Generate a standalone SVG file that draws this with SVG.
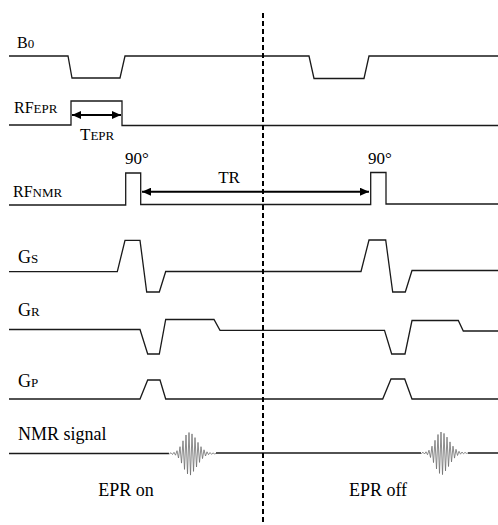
<svg xmlns="http://www.w3.org/2000/svg" width="498" height="525" viewBox="0 0 498 525">
<style>
.sig{fill:none;stroke:#1a1a1a;stroke-width:1.3;stroke-linejoin:miter}
text{font-family:"Liberation Serif","DejaVu Serif",serif;fill:#000}
.arr{stroke:#000;stroke-width:2;fill:none}
.wave{fill:none;stroke:#6e6e6e;stroke-width:0.8}
</style>
<defs>
<marker id="ah" markerUnits="userSpaceOnUse" markerWidth="9" markerHeight="8" refX="9" refY="4" orient="auto-start-reverse">
<path d="M0,0 L9,4 L0,8 z" fill="#000"/>
</marker>
<path id="wavelet" class="wave" d="M-20,0 L-19.5,0.5 L-18,-0.8 L-16.5,1 L-15,-1.2 L-13.5,1.7 L-12,-2.8 L-10.5,4.5 L-9,-6.8 L-7.5,9.6 L-6,-12.7 L-4.5,15.9 L-3,-18.5 L-1.5,20.4 L0,-21 L1.5,21.6 L3,-19.6 L4.5,17.9 L6,-15.9 L7.5,13.5 L9,-11.1 L10.5,8.9 L12,-6.8 L13.5,5.1 L15,-3.7 L16.5,2.5 L18,-1.7 L19.5,1.2 L21,-1 L22.5,0.8 L24,-0.6 L25.5,0.4 L27,0"/>
</defs>
<rect width="498" height="525" fill="#fff"/>

<g id="B0">
<path class="sig" d="M9,56 H68 L72,78 H120 L125,56 H309 L314,78.5 H364 L369,56 H498"/>
<text font-family="Liberation Serif, serif" x="17" y="48" font-size="16">B<tspan font-size="13">0</tspan></text>
</g>

<g id="RF_EPR">
<path class="sig" d="M9,125 H71 V101 H122 V125.5 H498"/>
<text font-family="Liberation Serif, serif" x="14" y="113" font-size="16">RF<tspan font-size="13">EPR</tspan></text>
<text font-family="Liberation Serif, serif" x="80" y="140" font-size="17">T<tspan font-size="13">EPR</tspan></text>
</g>

<g id="RF_NMR">
<path class="sig" d="M9,205 H125.7 V173 H140.7 V204.5 H370.7 V172.5 H386 V204 H498"/>
<text font-family="Liberation Serif, serif" x="13" y="197" font-size="16">RF<tspan font-size="13">NMR</tspan></text>
<text font-family="Liberation Serif, serif" x="137" y="164" font-size="17" text-anchor="middle">90°</text>
<text font-family="Liberation Serif, serif" x="380" y="164" font-size="17" text-anchor="middle">90°</text>
<text font-family="Liberation Serif, serif" x="229" y="183" font-size="17" text-anchor="middle">TR</text>
</g>

<g id="G_S">
<path class="sig" d="M9,271.7 H117.3 L125,240.3 H140 L146.7,292 H159.3 L165.7,271.5 H361 L369,240 H385.7 L392.7,292 H405.3 L412,270.5 H498"/>
<text font-family="Liberation Serif, serif" x="18" y="263" font-size="18">G<tspan font-size="13">S</tspan></text>
</g>

<g id="G_R">
<path class="sig" d="M9,329.5 H140 L147.7,354 H159.3 L165.7,319.5 H214 L220,330.3 H384.5 L391.7,354 H405 L412,320.5 H458.3 L463.3,331 H498"/>
<text font-family="Liberation Serif, serif" x="18" y="316" font-size="18">G<tspan font-size="13">R</tspan></text>
</g>

<g id="G_P">
<path class="sig" d="M9,399 H140 L147.7,380 H160 L165.7,399 H382.7 L391,379 H404.7 L412,399 H498"/>
<text font-family="Liberation Serif, serif" x="18" y="387" font-size="18">G<tspan font-size="13">P</tspan></text>
</g>

<g id="NMR_signal">
<path class="sig" d="M9,453.5 H169 M216,453 H421 M468,453 H498"/>
<use href="#wavelet" transform="translate(189,453.5)"/>
<use href="#wavelet" transform="translate(441,453)"/>
<text font-family="Liberation Serif, serif" x="18" y="440" font-size="18">NMR signal</text>
<text font-family="Liberation Serif, serif" x="126" y="496" font-size="18" text-anchor="middle">EPR on</text>
<text font-family="Liberation Serif, serif" x="378" y="496" font-size="18" text-anchor="middle">EPR off</text>
</g>

<g id="connectors">
<line class="arr" x1="72" y1="115" x2="121" y2="115" marker-start="url(#ah)" marker-end="url(#ah)"/>
<line class="arr" x1="142" y1="191.7" x2="369" y2="191.7" marker-start="url(#ah)" marker-end="url(#ah)"/>
<line x1="263" y1="13" x2="263" y2="523" stroke="#000" stroke-width="2" stroke-dasharray="5 3"/>
</g>
</svg>
